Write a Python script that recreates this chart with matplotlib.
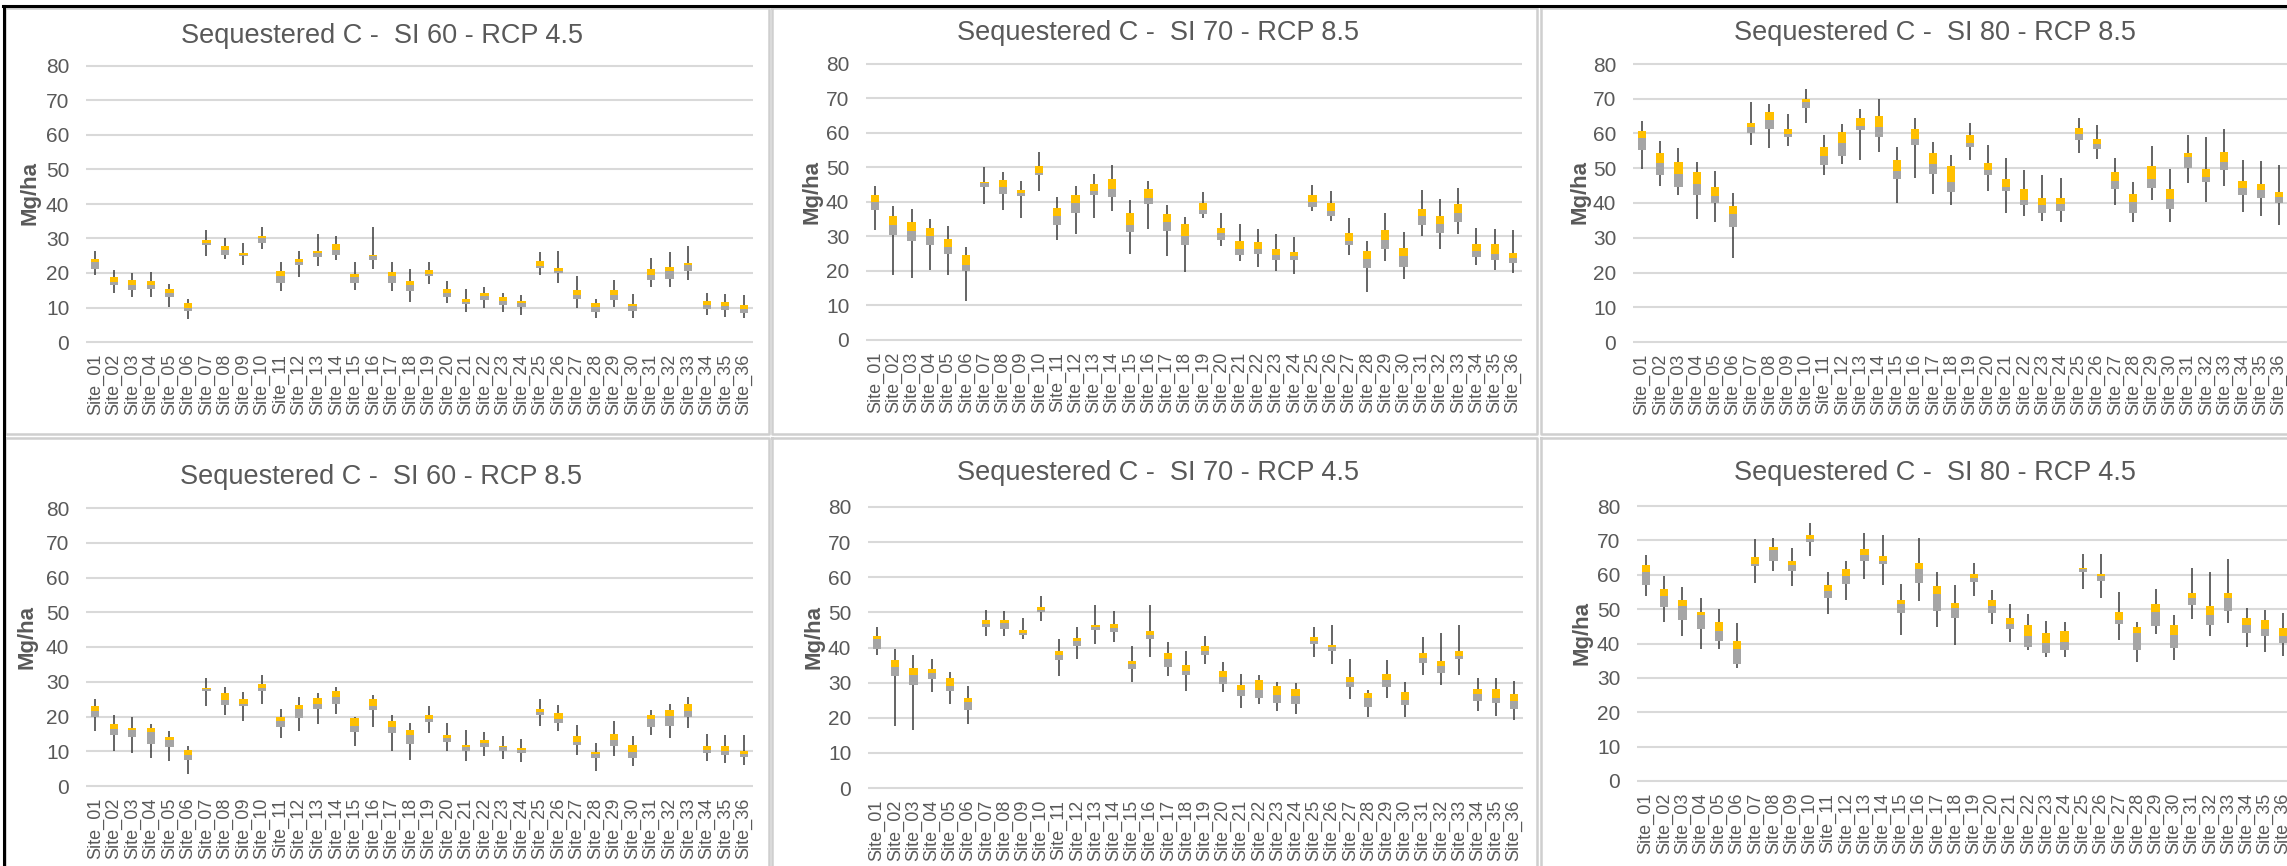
import matplotlib
matplotlib.use("Agg")
import matplotlib.pyplot as plt

# ---------------- data: (min, q1, median, q3, max) per site ----------------
sites = [f"Site_{i:02d}" for i in range(1, 37)]

si60_rcp45 = [
    (19.5, 21.1, 23.2, 24.1, 26.5), (14.1, 16.6, 17.5, 18.9, 21.0), (12.9, 15.0, 16.6, 18.0, 20.0),
    (12.9, 15.3, 16.5, 17.7, 20.4), (10.1, 12.9, 14.1, 15.3, 16.8), (6.6, 9.0, 9.9, 11.3, 12.5),
    (24.8, 28.0, 28.6, 29.6, 32.5), (24.1, 25.1, 26.7, 27.7, 30.1), (22.4, 24.8, 25.2, 25.9, 28.8),
    (26.9, 28.8, 30.2, 30.7, 33.4), (14.8, 17.0, 19.2, 20.7, 23.3), (18.7, 22.2, 23.2, 24.0, 26.4),
    (22.0, 24.5, 25.9, 26.4, 31.3), (23.8, 25.3, 26.7, 28.3, 30.7), (15.0, 17.0, 18.7, 19.7, 23.2),
    (21.1, 23.8, 25.0, 25.2, 33.2), (14.7, 17.2, 19.2, 20.3, 23.1), (11.7, 14.8, 16.4, 17.7, 21.3),
    (16.9, 19.0, 19.8, 21.0, 23.1), (11.2, 12.9, 14.2, 15.3, 17.7), (8.7, 10.9, 11.5, 12.5, 15.3),
    (9.8, 12.3, 13.4, 14.3, 15.8), (8.7, 10.8, 11.9, 12.9, 14.3), (7.7, 10.2, 11.2, 11.9, 13.7),
    (19.3, 21.5, 22.1, 23.5, 26.2), (17.2, 19.9, 20.7, 21.4, 26.5), (9.8, 12.6, 13.7, 15.0, 19.2),
    (6.9, 8.7, 10.1, 11.3, 12.5), (10.1, 12.3, 13.7, 15.0, 18.0), (7.1, 9.0, 10.3, 11.0, 14.0),
    (15.9, 18.1, 19.4, 21.1, 24.4), (15.9, 18.4, 20.5, 21.7, 26.2), (18.0, 20.5, 22.4, 22.9, 27.7),
    (7.8, 9.5, 10.8, 11.9, 14.3), (7.2, 9.3, 10.3, 11.6, 13.9), (6.9, 8.4, 9.5, 10.8, 13.7),
]

si70_rcp85 = [
    (31.8, 37.6, 40.1, 41.9, 44.6), (18.8, 30.5, 33.3, 36.0, 38.8), (18.0, 28.7, 31.5, 34.3, 38.1),
    (20.4, 27.6, 30.2, 32.6, 35.1), (18.9, 25.0, 26.9, 29.3, 32.9), (11.3, 19.9, 21.6, 24.6, 26.9),
    (39.5, 44.3, 45.6, 45.9, 50.0), (37.7, 42.3, 44.3, 46.5, 48.8), (35.5, 41.6, 42.5, 43.4, 46.1),
    (43.2, 47.9, 48.4, 50.4, 54.4), (29.0, 33.3, 36.0, 38.4, 41.5), (30.8, 36.7, 39.8, 42.1, 44.5),
    (35.4, 41.9, 43.2, 45.2, 48.0), (37.3, 41.4, 43.7, 46.8, 50.7), (25.0, 31.2, 33.3, 36.9, 40.5),
    (32.3, 39.5, 41.3, 43.7, 46.1), (24.4, 31.5, 34.3, 36.6, 39.0), (19.8, 27.5, 30.0, 33.6, 35.7),
    (35.5, 36.4, 37.6, 39.8, 43.0), (27.2, 29.0, 30.9, 32.6, 36.9), (22.9, 24.6, 26.5, 28.7, 33.5),
    (21.2, 25.0, 26.3, 28.4, 32.3), (20.0, 23.3, 24.7, 26.3, 30.8), (19.2, 23.2, 24.4, 25.6, 29.8),
    (37.3, 38.5, 40.0, 41.9, 44.9), (34.4, 36.0, 37.3, 39.7, 43.1), (24.6, 27.5, 28.7, 31.1, 35.4),
    (13.9, 21.0, 23.5, 25.8, 28.6), (22.9, 26.3, 29.1, 32.0, 36.9), (17.6, 21.3, 24.4, 26.8, 31.4),
    (30.0, 33.3, 35.8, 38.1, 43.4), (26.4, 30.9, 33.5, 36.0, 40.9), (30.6, 34.3, 36.9, 39.5, 44.2),
    (21.7, 24.1, 25.9, 27.9, 32.6), (20.4, 23.3, 25.0, 27.9, 32.3), (19.3, 22.4, 23.9, 25.2, 31.8),
]

si80_rcp85 = [
    (49.7, 55.2, 58.7, 60.7, 63.7), (44.8, 48.0, 51.4, 54.4, 57.9), (42.2, 44.6, 48.3, 51.9, 55.8),
    (35.5, 42.2, 45.5, 48.9, 51.7), (34.5, 40.0, 41.9, 44.6, 49.1), (24.1, 33.1, 36.7, 39.1, 42.8),
    (56.8, 60.1, 62.0, 63.1, 69.1), (55.9, 61.4, 64.0, 66.1, 68.6), (56.5, 59.0, 60.0, 61.3, 65.5),
    (62.9, 67.2, 69.1, 70.0, 72.8), (48.0, 50.8, 53.5, 56.1, 59.5), (51.3, 53.6, 57.4, 60.4, 62.8),
    (52.3, 60.9, 62.3, 64.6, 67.1), (54.7, 59.0, 62.0, 64.9, 69.8), (40.1, 47.0, 49.3, 52.4, 56.1),
    (47.3, 56.6, 58.3, 61.3, 64.6), (42.6, 48.3, 51.3, 54.4, 57.6), (39.5, 43.2, 45.9, 50.6, 53.7),
    (52.5, 56.2, 57.4, 59.5, 63.0), (43.5, 48.0, 49.5, 51.6, 56.6), (37.1, 43.5, 44.7, 46.8, 53.0),
    (36.2, 39.5, 41.0, 44.0, 49.4), (34.8, 37.1, 39.4, 41.3, 48.0), (34.5, 37.7, 39.8, 41.3, 47.2),
    (54.5, 58.0, 59.9, 61.6, 64.6), (52.8, 55.5, 57.1, 58.5, 62.4), (39.5, 44.1, 46.3, 48.9, 53.0),
    (34.4, 37.2, 40.3, 42.6, 46.1), (40.8, 44.3, 46.9, 50.7, 56.4), (34.5, 38.3, 41.1, 44.0, 49.7),
    (45.8, 50.0, 53.1, 54.4, 59.5), (40.4, 45.9, 47.4, 49.8, 59.0), (44.9, 49.5, 51.7, 54.7, 61.3),
    (37.4, 42.2, 44.3, 46.2, 52.3), (36.2, 41.4, 43.8, 45.6, 52.0), (33.7, 39.9, 41.6, 43.2, 51.0),
]

si60_rcp85 = [
    (15.9, 20.0, 21.6, 23.1, 25.0), (10.1, 14.8, 16.5, 17.9, 20.3), (9.5, 14.2, 16.0, 16.8, 19.8),
    (8.1, 12.2, 15.5, 16.8, 17.8), (7.1, 11.1, 13.2, 14.1, 15.8), (3.4, 7.4, 8.9, 10.3, 11.6),
    (22.9, 27.2, 27.8, 28.3, 31.0), (20.4, 23.4, 24.7, 26.8, 28.6), (18.7, 23.0, 23.6, 25.0, 27.0),
    (23.7, 27.2, 28.1, 29.4, 31.9), (13.8, 16.9, 18.6, 19.9, 22.2), (15.9, 19.5, 22.2, 23.3, 25.6),
    (17.9, 22.3, 23.7, 25.3, 26.8), (20.7, 23.7, 25.6, 27.4, 28.6), (11.6, 15.6, 17.2, 19.5, 19.9),
    (17.1, 21.9, 23.0, 25.0, 26.2), (10.1, 15.3, 17.1, 18.8, 20.3), (7.4, 12.2, 14.6, 16.1, 18.2),
    (15.2, 18.3, 19.3, 20.3, 23.0), (10.1, 12.6, 13.8, 14.6, 18.2), (7.1, 10.1, 11.2, 11.9, 16.1),
    (8.6, 11.1, 12.3, 13.1, 15.4), (7.8, 10.1, 11.2, 11.6, 14.3), (6.8, 9.6, 10.3, 10.9, 13.4),
    (17.4, 20.4, 21.3, 22.2, 25.0), (15.9, 18.0, 19.3, 21.0, 23.3), (8.9, 11.9, 12.8, 14.3, 17.6),
    (4.4, 8.1, 9.1, 9.8, 12.4), (8.6, 11.4, 13.2, 14.9, 18.6), (5.8, 8.2, 9.9, 11.7, 14.3),
    (14.6, 17.1, 19.3, 20.4, 21.9), (13.8, 17.4, 20.1, 22.0, 23.7), (16.8, 19.9, 21.7, 23.5, 25.6),
    (7.1, 9.5, 10.4, 11.6, 15.0), (6.5, 8.9, 10.1, 11.6, 14.8), (5.9, 8.4, 9.1, 10.0, 14.6),
]

si70_rcp45 = [
    (38.0, 39.6, 42.4, 43.3, 45.8), (17.6, 31.8, 34.4, 36.4, 39.7), (16.5, 29.4, 32.3, 34.3, 37.9),
    (27.2, 30.9, 32.6, 34.0, 36.7), (24.0, 27.6, 29.0, 31.4, 33.1), (18.3, 22.2, 24.6, 25.7, 28.9),
    (43.4, 45.7, 46.6, 47.7, 50.7), (43.4, 45.2, 46.9, 47.7, 50.4), (42.4, 43.7, 44.2, 45.1, 48.3),
    (47.5, 50.0, 50.8, 51.5, 54.7), (32.0, 36.5, 37.9, 39.0, 42.3), (36.8, 40.5, 41.8, 42.7, 45.8),
    (40.9, 44.9, 45.7, 46.5, 52.2), (41.5, 44.5, 45.5, 46.8, 50.4), (30.2, 33.8, 35.4, 36.1, 40.5),
    (37.4, 42.4, 43.6, 44.8, 52.2), (32.0, 34.5, 36.8, 38.3, 41.7), (27.6, 32.1, 33.2, 34.9, 39.0),
    (35.2, 38.0, 39.0, 40.5, 43.2), (27.3, 29.7, 31.7, 33.2, 35.8), (22.8, 26.3, 27.8, 29.3, 32.5),
    (23.8, 25.5, 27.9, 30.7, 32.2), (21.9, 24.1, 26.4, 28.9, 30.1), (21.1, 24.0, 26.1, 28.1, 29.8),
    (37.4, 40.9, 41.9, 42.9, 45.8), (35.3, 38.9, 40.2, 40.8, 46.5), (25.2, 28.7, 30.1, 31.6, 36.7),
    (20.1, 23.1, 25.7, 27.1, 28.0), (25.6, 28.7, 30.7, 32.5, 36.4), (20.1, 23.7, 25.1, 27.2, 30.3),
    (32.1, 35.5, 36.9, 38.3, 42.9), (29.4, 32.7, 34.6, 36.1, 44.1), (32.1, 36.6, 37.6, 39.0, 46.5),
    (21.8, 24.9, 26.7, 28.3, 31.4), (20.6, 24.1, 25.7, 28.1, 31.2), (19.5, 22.6, 24.9, 26.9, 30.4),
]

si80_rcp45 = [
    (53.9, 57.0, 60.7, 62.7, 65.7), (46.2, 50.6, 53.8, 55.8, 59.7), (42.3, 46.9, 50.9, 52.6, 56.3),
    (38.4, 44.2, 48.2, 49.3, 53.2), (38.4, 40.8, 43.5, 46.4, 50.0), (32.9, 34.0, 38.5, 40.7, 45.9),
    (57.6, 62.6, 63.1, 65.1, 70.4), (61.2, 64.1, 67.1, 68.0, 70.7), (56.7, 61.0, 62.8, 63.9, 67.7),
    (65.5, 69.6, 70.5, 71.6, 75.0), (48.7, 53.1, 55.3, 57.1, 60.8), (52.8, 57.3, 59.6, 61.8, 63.9),
    (58.9, 63.9, 65.8, 67.4, 72.1), (57.0, 63.2, 64.0, 65.4, 71.6), (42.6, 48.8, 51.4, 52.6, 57.4),
    (52.4, 57.6, 61.8, 63.3, 70.7), (44.8, 49.6, 54.4, 56.7, 60.7), (39.5, 47.4, 50.2, 51.9, 57.1),
    (53.9, 57.9, 59.1, 60.3, 63.3), (45.7, 48.8, 50.9, 52.6, 55.7), (40.4, 44.1, 45.7, 47.4, 51.6),
    (38.0, 38.9, 42.3, 45.3, 48.7), (36.1, 37.3, 40.1, 43.1, 46.6), (36.1, 38.1, 40.4, 43.5, 46.4),
    (55.8, 60.8, 61.6, 62.1, 66.0), (53.3, 58.2, 59.5, 60.3, 66.0), (41.1, 45.8, 46.9, 49.3, 55.0),
    (34.6, 38.2, 43.1, 44.8, 46.3), (42.8, 45.2, 49.1, 51.4, 56.0), (35.3, 38.7, 42.6, 45.3, 48.2),
    (47.1, 51.3, 53.1, 54.8, 62.1), (42.3, 45.3, 48.4, 50.8, 60.7), (45.9, 49.6, 53.1, 54.8, 64.5),
    (39.0, 43.2, 45.4, 47.3, 50.4), (37.5, 42.1, 44.1, 46.7, 49.7), (36.3, 40.1, 42.3, 44.6, 48.9),
]

titles = [
    "Sequestered C -  SI 60 - RCP 4.5", "Sequestered C -  SI 70 - RCP 8.5", "Sequestered C -  SI 80 - RCP 8.5",
    "Sequestered C -  SI 60 - RCP 8.5", "Sequestered C -  SI 70 - RCP 4.5", "Sequestered C -  SI 80 - RCP 4.5",
]
panels = [si60_rcp45, si70_rcp85, si80_rcp85, si60_rcp85, si70_rcp45, si80_rcp45]

# ---------------- layout (pixels of the 2287x866 picture) ----------------
W, H = 2287, 866
# plot left, plot right, y of 80 gridline, y of 0 gridline
plot_px = [
    (86, 753, 66, 342), (866, 1522, 64, 340), (1633, 2288, 64, 342),
    (86, 753, 508, 786), (868, 1523, 507, 788), (1637, 2292, 506, 781),
]
title_px = [(382, 36), (1158, 33), (1935, 33), (381, 477), (1158, 473), (1935, 473)]
ylab_px = [(30, 193), (812, 192), (1580, 192), (27, 637), (814, 637), (1582, 633)]

font = "Liberation Sans"
txt = "#595959"
gray_box = "#A5A5A5"
yellow = "#FFC000"

fig = plt.figure(figsize=(W / 100, H / 100), dpi=100)

# frames around the six charts
bg = fig.add_axes([0, 0, 1, 1], zorder=-5)
bg.set_xlim(0, W)
bg.set_ylim(H, 0)
bg.axis("off")
for (x0, x1) in [(5, 769), (772, 1537), (1541, 2300)]:
    for (y0, y1) in [(8, 434), (438, 875)]:
        bg.plot([x0, x1, x1, x0, x0], [y0, y0, y1, y1, y0], color="#cfcfcf", lw=1.8)
bg.plot([3, W], [6, 6], color="black", lw=2.2)
bg.plot([4, 4], [6, H], color="black", lw=2.2)

for k, data in enumerate(panels):
    x0, x1, y80, y0 = plot_px[k]
    u = (y0 - y80) / 80.0
    top = y80 - u * 1.0
    bot = y0 + u * 1.0
    ax = fig.add_axes([x0 / W, 1 - bot / H, (x1 - x0) / W, (bot - top) / H])
    ax.set_xlim(-0.5, 35.5)
    ax.set_ylim(-1, 81)

    xs = list(range(len(sites)))
    lo = [d[0] for d in data]
    q1 = [d[1] for d in data]
    med = [d[2] for d in data]
    q3 = [d[3] for d in data]
    hi = [d[4] for d in data]

    ax.vlines(xs, lo, hi, color="#3a3a3a", lw=1.1, zorder=2)
    ax.bar(xs, [m - a for m, a in zip(med, q1)], bottom=q1, width=0.45,
           color=gray_box, zorder=3)
    ax.bar(xs, [b - m for b, m in zip(q3, med)], bottom=med, width=0.45,
           color=yellow, zorder=3)

    ax.set_yticks(range(0, 81, 10))
    ax.yaxis.grid(True, color="#d9d9d9", lw=1.5, zorder=0)
    ax.set_axisbelow(True)
    for s in ax.spines.values():
        s.set_visible(False)
    ax.tick_params(axis="both", length=0)
    ax.tick_params(axis="y", pad=12, labelsize=15, labelcolor=txt)
    ax.tick_params(axis="x", pad=6, labelcolor=txt)
    ax.set_xticks(xs)
    ax.set_xticklabels(sites, rotation=90, fontsize=13, family=font)
    for lab in ax.get_yticklabels():
        lab.set_family(font)
    ax.patch.set_alpha(0)

    tx, ty = title_px[k]
    fig.text(tx / W, 1 - ty / H, titles[k], ha="center", va="center",
             fontsize=19.5, color=txt, family=font)
    lx, ly = ylab_px[k]
    fig.text(lx / W, 1 - ly / H, "Mg/ha", rotation=90, ha="center", va="center",
             fontsize=16, fontweight="bold", color=txt, family=font)

fig.savefig("out.png", dpi=100)
